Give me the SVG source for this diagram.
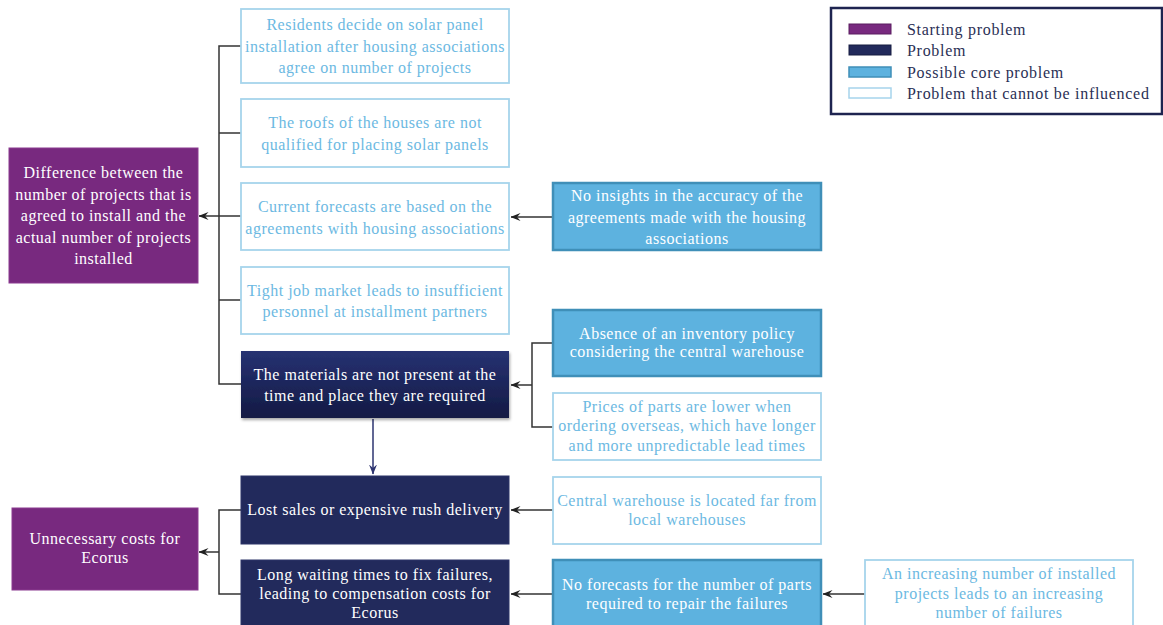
<svg xmlns="http://www.w3.org/2000/svg" width="1163" height="625" viewBox="0 0 1163 625">
<defs>
<style>
text{font-family:"Liberation Serif","DejaVu Serif",serif;font-size:16px;letter-spacing:0.5px;text-anchor:middle}
.w{fill:#ffffff}
.lb{fill:#6cb9e2}
.start{fill:#78297f;stroke:#8a3a90;stroke-width:1}
.prob{fill:#222a5c;stroke:#2d3568;stroke-width:1}
.core{fill:#5db2df;stroke:#3f8fb8;stroke-width:2.5}
.ext{fill:#ffffff;stroke:#a6d4ec;stroke-width:1.8}
.ln{fill:none;stroke:#333333;stroke-width:1.5}
.lg{font-size:16px;letter-spacing:0.7px;text-anchor:start;fill:#2a2f55}
</style>
<linearGradient id="navyGrad" x1="0" y1="0" x2="0" y2="1">
<stop offset="0" stop-color="#263272"/>
<stop offset="1" stop-color="#141a44"/>
</linearGradient>
<filter id="sh" x="-5%" y="-10%" width="115%" height="130%">
<feDropShadow dx="1" dy="2" stdDeviation="1.5" flood-color="#000" flood-opacity="0.35"/>
</filter>
<marker id="ah" viewBox="0 0 10 8" refX="9.5" refY="4" markerWidth="10" markerHeight="8" markerUnits="userSpaceOnUse" orient="auto">
<path d="M10,4 L0,0 L3.5,4 L0,8 Z" fill="#222"/>
</marker>
<marker id="ahd" viewBox="0 0 10 8" refX="9.5" refY="4" markerWidth="10" markerHeight="8" markerUnits="userSpaceOnUse" orient="auto">
<path d="M10,4 L0,0 L3.5,4 L0,8 Z" fill="#2d3470"/>
</marker>
</defs>

<g id="connectors">
<path class="ln" d="M241,46 H219 V384 H241"/>
<path class="ln" d="M241,133 H219"/>
<path class="ln" d="M241,300 H219"/>
<path class="ln" d="M241,216 H199" marker-end="url(#ah)"/>
<path class="ln" d="M553,217 H511" marker-end="url(#ah)"/>
<path class="ln" d="M553,343 H532 V427 H553"/>
<path class="ln" d="M532,385 H511" marker-end="url(#ah)"/>
<path d="M373,419 V474" fill="none" stroke="#2d3470" stroke-width="1.5" marker-end="url(#ahd)"/>
<path class="ln" d="M241,510 H219 V594 H241"/>
<path class="ln" d="M219,552 H199" marker-end="url(#ah)"/>
<path class="ln" d="M553,510 H511" marker-end="url(#ah)"/>
<path class="ln" d="M553,594 H511" marker-end="url(#ah)"/>
<path class="ln" d="M865,594 H823" marker-end="url(#ah)"/>
</g>

<g id="node-difference">
<rect class="start" x="9" y="148" width="189" height="135"/>
<text class="w" x="103.5" y="178">Difference between the</text>
<text class="w" x="103.5" y="199.5">number of projects that is</text>
<text class="w" x="103.5" y="221">agreed to install and the</text>
<text class="w" x="103.5" y="242.5">actual number of projects</text>
<text class="w" x="103.5" y="264">installed</text>
</g>

<g id="node-unnecessary-costs">
<rect class="start" x="12" y="508" width="186" height="82"/>
<text class="w" x="105" y="544">Unnecessary costs for</text>
<text class="w" x="105" y="563">Ecorus</text>
</g>

<g id="node-residents">
<rect class="ext" x="241" y="9" width="268" height="74"/>
<text class="lb" x="375" y="30">Residents decide on solar panel</text>
<text class="lb" x="375" y="52">installation after housing associations</text>
<text class="lb" x="375" y="73">agree on number of projects</text>
</g>

<g id="node-roofs">
<rect class="ext" x="241" y="99" width="268" height="68"/>
<text class="lb" x="375" y="128">The roofs of the houses are not</text>
<text class="lb" x="375" y="150">qualified for placing solar panels</text>
</g>

<g id="node-forecasts">
<rect class="ext" x="241" y="183" width="268" height="67"/>
<text class="lb" x="375" y="212">Current forecasts are based on the</text>
<text class="lb" x="375" y="234">agreements with housing associations</text>
</g>

<g id="node-job-market">
<rect class="ext" x="241" y="267" width="268" height="67"/>
<text class="lb" x="375" y="296">Tight job market leads to insufficient</text>
<text class="lb" x="375" y="317">personnel at installment partners</text>
</g>

<g id="node-materials">
<rect x="241" y="351" width="268" height="67" fill="url(#navyGrad)" filter="url(#sh)"/>
<text class="w" x="375" y="380">The materials are not present at the</text>
<text class="w" x="375" y="401">time and place they are required</text>
</g>

<g id="node-lost-sales">
<rect class="prob" x="241" y="476" width="268" height="68"/>
<text class="w" x="375" y="515">Lost sales or expensive rush delivery</text>
</g>

<g id="node-long-waiting">
<rect class="prob" x="241" y="560" width="268" height="70"/>
<text class="w" x="375" y="580">Long waiting times to fix failures,</text>
<text class="w" x="375" y="599">leading to compensation costs for</text>
<text class="w" x="375" y="618">Ecorus</text>
</g>

<g id="node-no-insights">
<rect class="core" x="553" y="183" width="268" height="67"/>
<text class="w" x="687" y="201">No insights in the accuracy of the</text>
<text class="w" x="687" y="223">agreements made with the housing</text>
<text class="w" x="687" y="244">associations</text>
</g>

<g id="node-absence">
<rect class="core" x="553" y="310" width="268" height="66"/>
<text class="w" x="687" y="339">Absence of an inventory policy</text>
<text class="w" x="687" y="357">considering the central warehouse</text>
</g>

<g id="node-prices">
<rect class="ext" x="553" y="393" width="268" height="67"/>
<text class="lb" x="687" y="412">Prices of parts are lower when</text>
<text class="lb" x="687" y="431">ordering overseas, which have longer</text>
<text class="lb" x="687" y="451">and more unpredictable lead times</text>
</g>

<g id="node-central-warehouse">
<rect class="ext" x="553" y="477" width="268" height="67"/>
<text class="lb" x="687" y="506">Central warehouse is located far from</text>
<text class="lb" x="687" y="525">local warehouses</text>
</g>

<g id="node-no-forecasts">
<rect class="core" x="553" y="560" width="268" height="70"/>
<text class="w" x="687" y="590">No forecasts for the number of parts</text>
<text class="w" x="687" y="609">required to repair the failures</text>
</g>

<g id="node-increasing">
<rect class="ext" x="865" y="560" width="268" height="70"/>
<text class="lb" x="999" y="579">An increasing number of installed</text>
<text class="lb" x="999" y="599">projects leads to an increasing</text>
<text class="lb" x="999" y="618">number of failures</text>
</g>

<g id="legend">
<rect x="831" y="8" width="331" height="106" fill="#ffffff" stroke="#1e2450" stroke-width="2.5"/>
<rect x="849" y="24" width="42" height="10" fill="#78297f" stroke="#5a1c60" stroke-width="1"/>
<rect x="849" y="45" width="42" height="10" fill="#222a5c" stroke="#161c40" stroke-width="1"/>
<rect x="849" y="67" width="42" height="10" fill="#5db2df" stroke="#3f8fb8" stroke-width="1.5"/>
<rect x="849" y="88" width="42" height="10" fill="#ffffff" stroke="#a6d4ec" stroke-width="1.5"/>
<text class="lg" x="907" y="35">Starting problem</text>
<text class="lg" x="907" y="56">Problem</text>
<text class="lg" x="907" y="78">Possible core problem</text>
<text class="lg" x="907" y="99">Problem that cannot be influenced</text>
</g>
</svg>
